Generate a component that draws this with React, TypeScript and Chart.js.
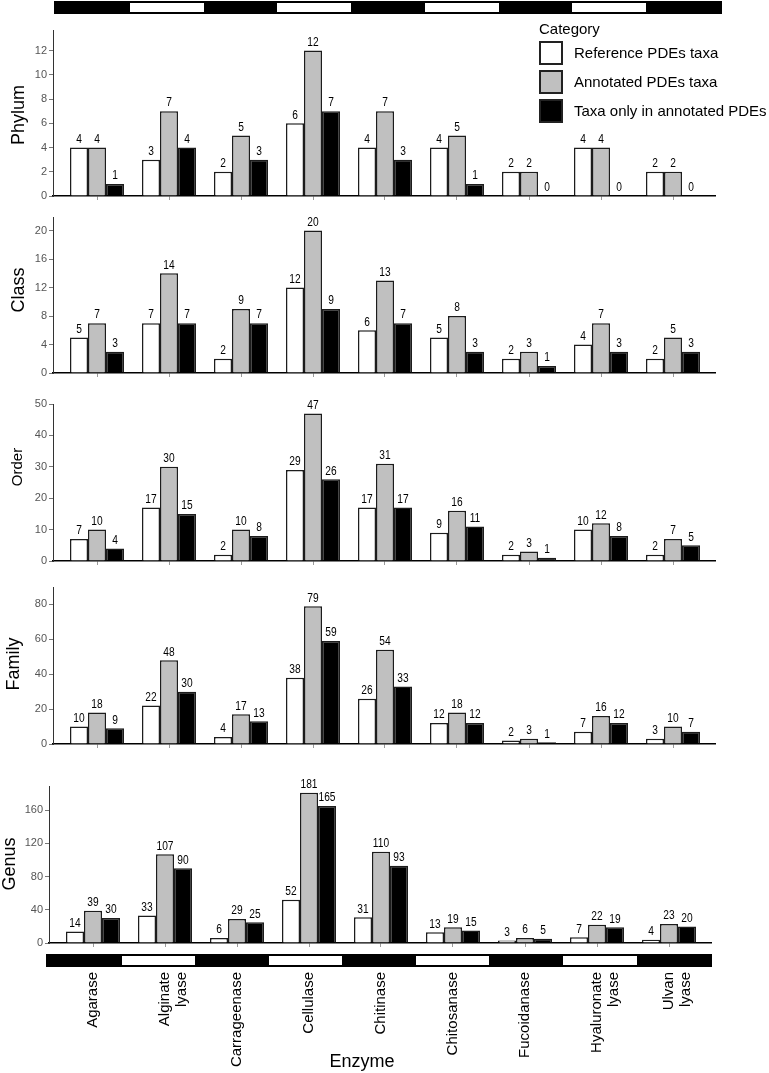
import React, { useEffect, useRef } from "react";
import { Chart, registerables } from "chart.js";

Chart.register(...registerables);

// ---------------- data ----------------
const categories = [
  "Agarase",
  "Alginate lyase",
  "Carrageenase",
  "Cellulase",
  "Chitinase",
  "Chitosanase",
  "Fucoidanase",
  "Hyaluronate lyase",
  "Ulvan lyase",
];
const seriesNames = ["Reference PDEs taxa", "Annotated PDEs taxa", "Taxa only in annotated PDEs"];

const phylumRef = [4, 3, 2, 6, 4, 4, 2, 4, 2];
const phylumAnn = [4, 7, 5, 12, 7, 5, 2, 4, 2];
const phylumOnly = [1, 4, 3, 7, 3, 1, 0, 0, 0];

const classRef = [5, 7, 2, 12, 6, 5, 2, 4, 2];
const classAnn = [7, 14, 9, 20, 13, 8, 3, 7, 5];
const classOnly = [3, 7, 7, 9, 7, 3, 1, 3, 3];

const orderRef = [7, 17, 2, 29, 17, 9, 2, 10, 2];
const orderAnn = [10, 30, 10, 47, 31, 16, 3, 12, 7];
const orderOnly = [4, 15, 8, 26, 17, 11, 1, 8, 5];

const familyRef = [10, 22, 4, 38, 26, 12, 2, 7, 3];
const familyAnn = [18, 48, 17, 79, 54, 18, 3, 16, 10];
const familyOnly = [9, 30, 13, 59, 33, 12, 1, 12, 7];

const genusRef = [14, 33, 6, 52, 31, 13, 3, 7, 4];
const genusAnn = [39, 107, 29, 181, 110, 19, 6, 22, 23];
const genusOnly = [30, 90, 25, 165, 93, 15, 5, 19, 20];

const panelTitles = ["Phylum", "Class", "Order", "Family", "Genus"];
const panelMax = [13.7, 21.9, 50, 90, 189.2];
const panelStep = [2, 4, 10, 20, 40];
const xTitle = "Enzyme";
const legendTitle = "Category";

// ---------------- styling / layout ----------------
const FONT = "'Liberation Sans', Arial, Helvetica, sans-serif";
const FILLS = ["#ffffff", "#c0c0c0", "#000000"];
const PAGE_W = 769;
const PAGE_H = 1073;

type PanelGeom = {
  left: number;
  right: number;
  top: number;
  bottom: number;
  titleX: number;
  titleY: number;
  titleSize: number;
};

const geoms: PanelGeom[] = [
  { left: 53, right: 715, top: 30, bottom: 196, titleX: 19.5, titleY: 115, titleSize: 18 },
  { left: 53, right: 715, top: 217, bottom: 373, titleX: 19, titleY: 290, titleSize: 18 },
  { left: 53, right: 715, top: 404, bottom: 561, titleX: 18, titleY: 467, titleSize: 15 },
  { left: 53, right: 715, top: 587, bottom: 744, titleX: 14, titleY: 664, titleSize: 18 },
  { left: 49, right: 711, top: 786, bottom: 943, titleX: 10, titleY: 864, titleSize: 18 },
];

const panelSeries = [
  [phylumRef, phylumAnn, phylumOnly],
  [classRef, classAnn, classOnly],
  [orderRef, orderAnn, orderOnly],
  [familyRef, familyAnn, familyOnly],
  [genusRef, genusAnn, genusOnly],
];

const tickLines = categories.map((c) => c.split(" "));

// ---------------- plugins ----------------
const valueLabels = {
  id: "valueLabels",
  afterDatasetsDraw(chart: any) {
    const ctx = chart.ctx;
    chart.data.datasets.forEach((ds: any, di: number) => {
      const meta = chart.getDatasetMeta(di);
      meta.data.forEach((bar: any, i: number) => {
        const v = ds.data[i].y;
        ctx.save();
        ctx.font = `12px ${FONT}`;
        ctx.fillStyle = "#000";
        ctx.textAlign = "center";
        ctx.textBaseline = "bottom";
        ctx.translate(bar.x, bar.y - 2);
        ctx.scale(0.85, 1); // narrow lettering as in the original
        ctx.fillText(String(v), 0, 0);
        ctx.restore();
      });
    });
  },
};

const panelText = {
  id: "panelText",
  afterDraw(chart: any, _args: any, opts: any) {
    const ctx = chart.ctx;
    (opts.items || []).forEach((it: any) => {
      ctx.save();
      ctx.font = `${it.size}px ${FONT}`;
      ctx.fillStyle = "#000";
      ctx.textAlign = "center";
      ctx.textBaseline = "middle";
      ctx.translate(it.x, it.y);
      if (it.rotate) ctx.rotate(-Math.PI / 2);
      ctx.fillText(it.text, 0, 0);
      ctx.restore();
    });
  },
};

// ---------------- panel component ----------------
function Panel({ index }: { index: number }) {
  const ref = useRef<HTMLCanvasElement | null>(null);
  const g = geoms[index];
  const isLast = index === geoms.length - 1;
  const padTop = 24;
  const padBottom = isLast ? PAGE_H - g.bottom : 12;
  const canvasTop = g.top - padTop;
  const H = g.bottom - g.top + padTop + padBottom;
  const center0 = g.left + 44;
  const spacing = 72;
  const xMin = -(center0 - g.left) / spacing;
  const xMax = (g.right - center0) / spacing;

  useEffect(() => {
    if (!ref.current) return;
    const step = panelStep[index];
    const items: any[] = [
      { text: panelTitles[index], x: g.titleX, y: g.titleY - canvasTop, size: g.titleSize, rotate: true },
    ];
    if (isLast) items.push({ text: xTitle, x: 362, y: 1062 - canvasTop, size: 18, rotate: false });

    const chart = new Chart(ref.current, {
      type: "bar",
      data: {
        datasets: panelSeries[index].map((vals, k) => ({
          label: seriesNames[k],
          data: vals.map((v, i) => ({ x: i, y: v })),
          backgroundColor: FILLS[k],
          borderColor: "#1c1c1c",
          borderWidth: 1.5,
          categoryPercentage: 0.75,
          barPercentage: 1,
        })),
      },
      options: {
        responsive: false,
        animation: false,
        layout: { padding: { top: padTop, right: PAGE_W - g.right, left: 0, bottom: 0 } },
        plugins: {
          legend: { display: false },
          tooltip: { enabled: false },
          panelText: { items },
        } as any,
        scales: {
          x: {
            type: "linear",
            min: xMin,
            max: xMax,
            offset: false,
            afterBuildTicks: (axis: any) => {
              axis.ticks = axis.ticks.filter(
                (t: any) => Number.isInteger(t.value) && t.value >= 0 && t.value < categories.length
              );
            },
            afterFit: (axis: any) => {
              axis.height = padBottom;
            },
            ticks: {
              stepSize: 1,
              display: isLast,
              autoSkip: false,
              minRotation: 90,
              maxRotation: 90,
              padding: 25,
              color: "#000",
              font: { family: FONT, size: 15, lineHeight: 1.15 },
              callback: (v: any) => tickLines[v as number] || "",
            },
            grid: { drawOnChartArea: false, drawTicks: true, tickLength: 4, color: "#9a9a9a", offset: false },
            border: { display: true, color: "#000", width: 1.5 },
          },
          y: {
            min: 0,
            max: panelMax[index],
            afterBuildTicks: (axis: any) => {
              axis.ticks = axis.ticks.filter(
                (t: any) => Math.abs(t.value / step - Math.round(t.value / step)) < 1e-6
              );
            },
            afterFit: (axis: any) => {
              axis.width = g.left;
            },
            ticks: {
              stepSize: step,
              padding: 2,
              color: "#555",
              font: { family: FONT, size: 11 },
            },
            grid: { drawOnChartArea: false, drawTicks: true, tickLength: 4, color: "#777" },
            border: { display: true, color: "#333", width: 1 },
          },
        } as any,
      },
      plugins: [valueLabels, panelText] as any,
    } as any);
    return () => chart.destroy();
  }, [index]);

  return (
    <canvas
      ref={ref}
      width={PAGE_W}
      height={H}
      style={{ position: "absolute", left: 0, top: canvasTop, width: PAGE_W, height: H }}
    />
  );
}

function Strip({ left, top, width, height }: { left: number; top: number; width: number; height: number }) {
  return (
    <div
      style={{
        position: "absolute",
        left,
        top,
        width,
        height,
        display: "flex",
        background: "#000",
        border: "2px solid #000",
        boxSizing: "border-box",
      }}
    >
      {categories.map((c, i) => (
        <div key={c} style={{ flex: 1, background: i % 2 === 0 ? "#000" : "#fff" }} />
      ))}
    </div>
  );
}

function Legend() {
  const boxTops = [41, 70, 99];
  return (
    <div style={{ position: "absolute", left: 0, top: 0 }}>
      <div
        style={{
          position: "absolute",
          left: 539,
          top: 20,
          font: `15px ${FONT}`,
          lineHeight: "18px",
          color: "#000",
          whiteSpace: "nowrap",
        }}
      >
        {legendTitle}
      </div>
      {seriesNames.map((name, k) => (
        <React.Fragment key={name}>
          <div
            style={{
              position: "absolute",
              left: 539,
              top: boxTops[k],
              width: 24,
              height: 24,
              boxSizing: "border-box",
              border: "2px solid #222",
              background: FILLS[k],
            }}
          />
          <div
            style={{
              position: "absolute",
              left: 574,
              top: boxTops[k] + 3,
              font: `15px ${FONT}`,
              lineHeight: "18px",
              color: "#000",
              whiteSpace: "nowrap",
            }}
          >
            {name}
          </div>
        </React.Fragment>
      ))}
    </div>
  );
}

export default function App() {
  return (
    <div
      style={{
        position: "absolute",
        left: 0,
        top: 0,
        width: PAGE_W,
        height: PAGE_H,
        background: "#fff",
        overflow: "hidden",
      }}
    >
      {geoms.map((_, i) => (
        <Panel key={i} index={i} />
      ))}
      <Strip left={54} top={1} width={668} height={13} />
      <Strip left={46} top={954} width={666} height={13} />
      <Legend />
    </div>
  );
}
